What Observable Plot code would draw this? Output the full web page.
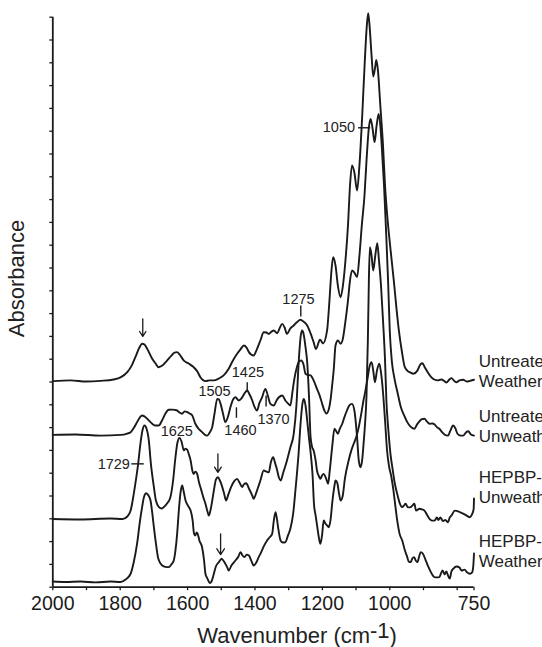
<!DOCTYPE html>
<html><head><meta charset="utf-8">
<script src="https://cdn.jsdelivr.net/npm/d3@7"></script>
<script src="https://cdn.jsdelivr.net/npm/@observablehq/plot@0.6"></script>
<style>
html,body{margin:0;padding:0;background:#fff;overflow:hidden;}
#chart svg{display:block;overflow:hidden;}
</style></head><body><div id="chart"></div>
<script>
// FTIR spectra: [wavenumber (cm-1), absorbance (arbitrary, offset-stacked)]
const untreatedWeathered = [[2000,9.04],[1947,9.07],[1900,9.02],[1858,9.05],[1820,9.11],[1799,9.20],[1779,9.43],[1766,9.72],[1755,10.09],[1743,10.51],[1735,10.68],[1728,10.64],[1719,10.43],[1705,10.02],[1695,9.81],[1686,9.65],[1675,9.72],[1661,9.94],[1648,10.16],[1639,10.29],[1631,10.31],[1624,10.21],[1611,9.94],[1597,9.81],[1582,9.65],[1571,9.46],[1562,9.21],[1553,9.07],[1547,9.04],[1535,9.07],[1522,9.07],[1508,9.15],[1493,9.29],[1478,9.58],[1467,9.90],[1453,10.24],[1443,10.43],[1433,10.60],[1425,10.51],[1418,10.31],[1404,10.16],[1396,10.38],[1384,10.82],[1374,11.18],[1366,11.17],[1359,11.11],[1351,11.21],[1344,11.26],[1334,11.14],[1327,11.35],[1319,11.55],[1312,11.39],[1305,11.11],[1295,11.35],[1285,11.48],[1275,11.63],[1265,11.73],[1256,11.65],[1245,11.48],[1235,11.13],[1226,10.75],[1219,10.45],[1207,10.86],[1198,10.69],[1186,11.26],[1179,12.57],[1173,13.89],[1168,14.47],[1161,14.11],[1154,13.23],[1146,12.72],[1139,13.23],[1132,14.24],[1124,15.86],[1118,17.61],[1112,18.50],[1105,18.19],[1097,17.40],[1090,18.50],[1082,20.60],[1074,23.10],[1068,24.64],[1064,25.18],[1060,24.64],[1054,23.32],[1049,22.40],[1043,22.84],[1040,23.13],[1035,22.66],[1028,21.13],[1020,19.37],[1014,17.61],[1008,16.39],[998,14.85],[988,13.45],[980,12.22],[973,11.26],[963,10.24],[956,9.68],[948,9.50],[939,9.42],[930,9.36],[918,9.50],[909,9.77],[903,9.82],[896,9.64],[887,9.42],[877,9.21],[868,9.11],[857,9.07],[847,9.11],[838,9.04],[832,8.98],[823,9.11],[817,9.17],[808,9.04],[802,8.99],[793,9.07],[782,9.10],[772,9.02],[764,9.04],[750,9.10]];

const untreatedUnweathered = [[2000,6.68],[1933,6.70],[1858,6.65],[1799,6.68],[1779,6.74],[1769,6.80],[1759,7.00],[1750,7.24],[1741,7.46],[1735,7.53],[1728,7.49],[1720,7.39],[1705,7.17],[1695,7.09],[1686,7.09],[1676,7.31],[1666,7.61],[1656,7.78],[1645,7.79],[1631,7.75],[1624,7.66],[1616,7.61],[1609,7.71],[1601,7.68],[1594,7.62],[1586,7.53],[1577,7.17],[1568,6.96],[1557,6.80],[1550,6.70],[1542,6.65],[1534,6.79],[1527,7.02],[1520,7.62],[1512,8.26],[1507,8.23],[1502,8.04],[1495,7.62],[1488,7.24],[1480,7.49],[1473,7.89],[1465,8.23],[1458,8.33],[1448,8.19],[1440,8.28],[1431,8.50],[1423,8.63],[1416,8.45],[1408,8.19],[1402,7.93],[1394,7.75],[1387,8.07],[1379,8.33],[1369,8.70],[1362,8.41],[1354,8.04],[1344,7.97],[1336,8.19],[1329,8.33],[1319,8.41],[1310,8.19],[1302,8.06],[1295,7.97],[1289,8.54],[1283,9.15],[1275,9.68],[1270,9.88],[1263,9.94],[1256,9.77],[1250,9.36],[1243,9.31],[1235,9.29],[1226,9.07],[1216,8.70],[1207,8.36],[1201,8.06],[1194,7.75],[1188,7.62],[1182,7.75],[1176,8.19],[1171,8.85],[1166,9.59],[1161,10.60],[1154,10.82],[1146,10.68],[1139,10.91],[1132,11.61],[1124,12.57],[1118,13.45],[1112,13.89],[1105,13.80],[1097,13.60],[1090,14.54],[1083,15.86],[1075,17.18],[1069,18.71],[1062,20.16],[1057,20.54],[1051,20.12],[1045,19.52],[1039,20.25],[1033,20.76],[1028,20.25],[1023,19.15],[1017,17.62],[1011,15.64],[1005,13.45],[1000,11.26],[994,9.94],[986,9.15],[977,8.54],[967,7.89],[956,7.49],[948,7.24],[939,7.05],[927,6.95],[919,7.14],[912,7.27],[906,7.36],[897,7.39],[890,7.27],[882,7.17],[873,7.18],[867,7.14],[859,7.00],[853,6.95],[844,6.79],[838,6.70],[827,6.65],[820,6.87],[812,7.09],[805,6.96],[799,6.73],[790,6.65],[782,6.65],[774,6.79],[767,6.84],[759,6.70],[750,6.65]];

const hepbpUnweathered = [[2000,2.99],[1918,2.97],[1829,3.01],[1793,2.99],[1779,3.10],[1769,3.36],[1762,3.89],[1755,4.54],[1747,5.38],[1740,6.29],[1734,6.87],[1728,7.09],[1722,6.96],[1715,6.43],[1709,5.43],[1700,4.39],[1694,3.80],[1685,3.51],[1677,3.45],[1671,3.51],[1661,3.67],[1651,3.95],[1643,4.68],[1636,5.70],[1630,6.35],[1624,6.55],[1618,6.39],[1611,6.00],[1606,6.08],[1601,6.03],[1596,5.82],[1591,5.56],[1586,5.12],[1582,4.97],[1577,5.07],[1572,4.99],[1566,4.59],[1560,4.29],[1553,3.93],[1547,3.66],[1541,3.32],[1537,3.14],[1531,3.45],[1522,4.24],[1516,4.72],[1510,4.82],[1504,4.68],[1497,4.39],[1491,4.07],[1486,3.80],[1479,4.07],[1471,4.39],[1462,4.64],[1453,4.75],[1446,4.59],[1438,4.39],[1433,4.51],[1426,4.56],[1418,4.33],[1408,4.02],[1404,3.88],[1396,4.15],[1388,4.50],[1384,4.68],[1374,5.12],[1366,5.07],[1359,5.04],[1353,5.47],[1346,5.70],[1340,5.43],[1334,5.12],[1329,4.81],[1324,4.68],[1316,5.03],[1305,5.56],[1295,6.13],[1285,6.73],[1277,7.97],[1270,9.94],[1264,11.04],[1260,11.26],[1256,11.13],[1250,10.53],[1245,9.86],[1240,8.48],[1235,6.58],[1230,6.13],[1226,6.00],[1220,5.56],[1216,5.12],[1210,4.86],[1206,4.75],[1201,4.90],[1196,4.97],[1189,4.77],[1183,4.54],[1178,5.12],[1171,6.14],[1164,6.95],[1160,6.87],[1154,6.73],[1148,6.96],[1141,7.17],[1135,7.44],[1127,7.75],[1120,7.97],[1112,8.04],[1105,7.75],[1097,6.58],[1092,5.56],[1087,5.26],[1082,5.56],[1077,6.43],[1074,7.02],[1069,8.41],[1065,10.82],[1062,13.45],[1059,14.91],[1054,14.54],[1049,13.89],[1043,14.54],[1037,15.09],[1032,14.33],[1026,13.23],[1020,11.70],[1014,9.94],[1010,8.19],[1004,6.87],[998,5.86],[991,5.12],[985,4.55],[978,4.10],[971,3.71],[963,3.51],[958,3.58],[953,3.66],[946,3.50],[938,3.51],[933,3.58],[927,3.66],[922,3.36],[912,3.44],[904,3.41],[897,3.36],[890,3.19],[882,3.00],[875,2.92],[867,2.92],[860,3.06],[856,2.95],[850,3.06],[842,2.90],[835,2.95],[827,2.85],[822,3.06],[817,3.14],[807,3.36],[799,3.34],[792,3.29],[782,3.23],[772,3.14],[762,3.07],[756,3.19],[751,3.44],[750,3.89]];

const hepbpWeathered = [[2000,0.25],[1962,0.23],[1918,0.25],[1873,0.21],[1829,0.25],[1799,0.23],[1784,0.34],[1769,0.59],[1760,1.08],[1750,1.90],[1741,2.93],[1735,3.51],[1729,3.98],[1723,4.12],[1716,4.02],[1710,3.80],[1705,3.28],[1700,2.63],[1694,1.92],[1688,1.32],[1682,1.08],[1675,0.95],[1666,0.89],[1656,0.88],[1648,1.00],[1641,1.17],[1636,1.61],[1631,2.34],[1626,3.36],[1621,4.15],[1616,4.46],[1611,4.15],[1606,3.80],[1601,3.63],[1596,3.51],[1591,3.36],[1585,2.93],[1581,2.36],[1577,2.27],[1573,2.40],[1570,2.34],[1565,2.05],[1557,1.75],[1551,1.17],[1547,0.59],[1541,0.38],[1534,0.18],[1529,0.25],[1522,0.59],[1516,0.91],[1507,1.10],[1499,1.25],[1494,1.17],[1488,1.03],[1482,0.86],[1478,0.73],[1470,0.95],[1458,1.17],[1449,1.35],[1443,1.54],[1437,1.39],[1431,1.32],[1425,1.43],[1418,1.39],[1410,1.13],[1404,0.95],[1396,1.08],[1388,1.35],[1384,1.46],[1374,1.79],[1364,2.05],[1357,2.18],[1349,2.34],[1344,2.93],[1339,3.29],[1335,3.01],[1330,2.49],[1324,2.05],[1317,1.96],[1310,1.97],[1302,2.27],[1295,2.56],[1287,3.19],[1280,4.24],[1271,5.78],[1264,7.31],[1259,8.06],[1255,8.26],[1250,7.97],[1245,7.31],[1240,6.58],[1234,5.78],[1229,4.90],[1225,3.67],[1220,3.14],[1215,2.63],[1210,2.14],[1206,1.90],[1201,2.27],[1196,2.93],[1191,2.79],[1186,2.71],[1181,2.63],[1176,2.93],[1170,3.80],[1164,4.46],[1161,4.68],[1156,4.59],[1151,4.15],[1146,3.80],[1140,3.98],[1133,4.77],[1122,5.56],[1114,6.00],[1107,6.29],[1099,6.61],[1092,7.02],[1084,7.66],[1078,8.19],[1074,8.48],[1066,9.15],[1060,9.68],[1054,9.87],[1049,9.50],[1044,8.99],[1038,9.50],[1031,9.80],[1026,9.42],[1020,8.54],[1014,7.31],[1008,5.99],[1002,5.29],[996,4.90],[989,4.24],[983,3.51],[977,2.84],[971,2.35],[963,2.05],[955,1.61],[948,1.32],[944,1.13],[938,1.10],[933,1.26],[928,1.32],[923,1.17],[918,1.10],[912,1.39],[908,1.54],[902,1.48],[893,1.17],[886,0.91],[878,0.66],[872,0.51],[868,0.44],[859,0.43],[853,0.44],[847,0.64],[843,0.73],[837,0.56],[832,0.69],[827,0.51],[822,0.38],[817,0.69],[811,0.82],[802,0.91],[793,0.86],[787,0.73],[778,0.77],[770,0.64],[762,0.59],[756,0.64],[752,0.95],[750,1.48]];

// axis ticks
const xTicks = [2000,1900,1800,1700,1600,1500,1400,1300,1200,1100,1000,900,800,750];
const xTickLabels = [2000,1800,1600,1400,1200,1000,750];
const yTicks = d3.range(0, 26);

// series labels (wavenumber, absorbance anchor); the figure is cropped at the right edge
const seriesNames = ["Untreated\nWeathered","Untreated\nUnweathered","HEPBP-treated\nUnweathered","HEPBP-treated\nWeathered"];
const seriesLabelW = [736, 736, 736, 736];
const seriesLabelA = [9.50, 7.09, 4.42, 1.61];

// band annotations
const bandText = ["1050","1275","1505","1425","1460","1370","1625","1729"];
const bandTextW = [1151, 1271, 1520, 1421, 1443, 1345, 1632, 1819];
const bandTextA = [20.16, 12.64, 8.58, 9.43, 6.87, 7.36, 6.85, 5.38];
// leader ticks: [w1, a1, w2, a2]
const leaders = [[1094,20.15,1058,20.15],[1264,12.35,1264,11.87],[1423,8.99,1423,8.62],[1455,7.89,1455,7.43],[1367,8.41,1367,7.93],[1767,5.41,1730,5.41]];
// arrows: [w, aTop, aTip]
const arrowsData = [[1733,11.77,11.0],[1510,5.85,5.04],[1502,2.34,1.43]];

const curves = [untreatedWeathered, untreatedUnweathered, hepbpUnweathered, hepbpWeathered]
  .map(pts => pts.map(([w, a]) => ({w, a})));
const seriesLabelRows = seriesNames.map((t, i) => ({t, w: seriesLabelW[i], a: seriesLabelA[i]}));
const bandRows = bandText.map((t, i) => ({t, w: bandTextW[i], a: bandTextA[i]}));
const leaderRows = leaders.map(([w1,a1,w2,a2]) => ({w1,a1,w2,a2}));
const arrowRows = arrowsData.map(([w,a1,a2]) => ({w,a1,a2}));

const ink = "#1a1a1a";
const font = "'Liberation Sans', Arial, Helvetica, sans-serif";

const plot = Plot.plot({
  width: 542,
  height: 647,
  marginTop: 16.7,
  marginBottom: 60.3,
  marginLeft: 52.3,
  marginRight: 68.5,
  x: {domain: [2000, 750]},
  y: {domain: [0, 25]},
  style: {fontFamily: font, fontSize: "19.5px", color: ink, background: "#fff", overflow: "hidden"},
  marks: [
    Plot.axisY({ticks: yTicks, tickSize: 3, tickFormat: () => "", stroke: ink, strokeWidth: 1.3, label: null}),
    Plot.axisX({ticks: xTicks, tickSize: 3.5, tickFormat: () => "", stroke: ink, strokeWidth: 1.3, label: null}),
    Plot.axisX({ticks: xTickLabels, tickSize: 0, tickPadding: 9.3, tickFormat: d => String(d), fill: ink, fontSize: 19.5, label: null}),
    Plot.ruleX([2000], {stroke: ink, strokeWidth: 1.8}),
    Plot.ruleY([0], {stroke: ink, strokeWidth: 1.8}),
    ...curves.map(rows => Plot.line(rows, {x: "w", y: "a", stroke: ink, strokeWidth: 1.9, curve: "monotone-x"})),
    Plot.link(leaderRows, {x1: "w1", y1: "a1", x2: "w2", y2: "a2", stroke: ink, strokeWidth: 1.4}),
    Plot.arrow(arrowRows, {x: "w", y1: "a1", y2: "a2", stroke: ink, strokeWidth: 1.3, headLength: 9, headAngle: 66}),
    Plot.text(bandRows, {x: "w", y: "a", text: "t", fontSize: 14.5, fill: "#222"}),
    Plot.text(seriesLabelRows, {x: "w", y: "a", text: "t", textAnchor: "start", fontSize: 17, lineHeight: 1.18, fill: "#222"}),
    Plot.text(["Absorbance"], {x: 2105, y: 13.54, rotate: -90, fontSize: 22, fill: "#222"}),
    Plot.text(["Wavenumber (cm-1)"], {x: 1275, y: -2.12, fontSize: 22, fill: "#222"})
  ]
});

d3.select(plot).selectAll("text").filter(function(){ return this.textContent === "Wavenumber (cm-1)"; }).each(function(){
  const t = d3.select(this);
  t.text(null);
  t.append("tspan").text("Wavenumber (cm");
  t.append("tspan").attr("dy", "-0.2em").text("-1");
  t.append("tspan").attr("dy", "0.2em").text(")");
});

document.getElementById("chart").appendChild(plot);
</script>
</body></html>
